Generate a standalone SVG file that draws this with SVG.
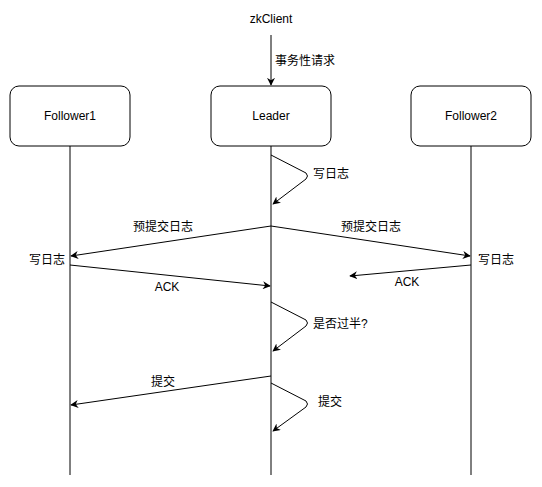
<svg xmlns="http://www.w3.org/2000/svg" width="542" height="487" viewBox="0 0 542 487">
<style>
text{font-family:"Liberation Sans","Noto Sans CJK SC",sans-serif;font-size:12px;fill:#000}
.box{fill:#fff;stroke:#000;stroke-width:1}
.ll{stroke:#000;stroke-width:1;fill:none}
.c{stroke:#000;stroke-width:1;fill:none;marker-end:url(#ah)}
</style>
<defs>
<marker id="ah" viewBox="0 0 10 10" refX="9" refY="5" markerWidth="8" markerHeight="8" markerUnits="userSpaceOnUse" orient="auto">
<path d="M0,0 L10,5 L0,10 L3,5 Z" fill="#000"/>
</marker>
</defs>
<rect width="542" height="487" fill="#fff"/>
<g id="zkClient"><text x="271" y="23" text-anchor="middle">zkClient</text></g>
<g id="follower1"><rect class="box" x="10" y="86" width="120" height="60" rx="9"/><text x="70" y="120" text-anchor="middle">Follower1</text></g>
<g id="leader"><rect class="box" x="211" y="86" width="120" height="60" rx="9"/><text x="271" y="120" text-anchor="middle">Leader</text></g>
<g id="follower2"><rect class="box" x="411" y="86" width="120" height="60" rx="9"/><text x="471" y="120" text-anchor="middle">Follower2</text></g>
<g id="connectors">
<line class="ll" x1="70" y1="146" x2="70" y2="475"/>
<line class="ll" x1="271" y1="146" x2="271" y2="475"/>
<line class="ll" x1="471" y1="146" x2="471" y2="475"/>
<line class="c" x1="271" y1="35" x2="271" y2="85"/>
<path class="c" d="M271,155 L306,173 Q309,176 306,179 L273,204"/>
<line class="c" x1="271" y1="226" x2="71" y2="256"/>
<line class="c" x1="271" y1="226" x2="470" y2="256"/>
<line class="c" x1="70" y1="265" x2="270" y2="286"/>
<line class="c" x1="471" y1="265" x2="350" y2="276"/>
<path class="c" d="M271,302 L306,320 Q309,323 306,326 L273,351"/>
<line class="c" x1="271" y1="376" x2="71" y2="405"/>
<path class="c" d="M271,383 L306,401 Q309,404 306,407 L273,431"/>
</g>
<g id="labels">
<text x="275" y="65">事务性请求</text>
<text x="313" y="178">写日志</text>
<text x="163" y="231" text-anchor="middle">预提交日志</text>
<text x="371" y="231" text-anchor="middle">预提交日志</text>
<text x="47" y="264" text-anchor="middle">写日志</text>
<text x="496" y="264" text-anchor="middle">写日志</text>
<text x="167" y="291" text-anchor="middle">ACK</text>
<text x="407" y="286" text-anchor="middle">ACK</text>
<text x="313" y="328">是否过半?</text>
<text x="163" y="386" text-anchor="middle">提交</text>
<text x="330" y="406" text-anchor="middle">提交</text>
</g>
</svg>
